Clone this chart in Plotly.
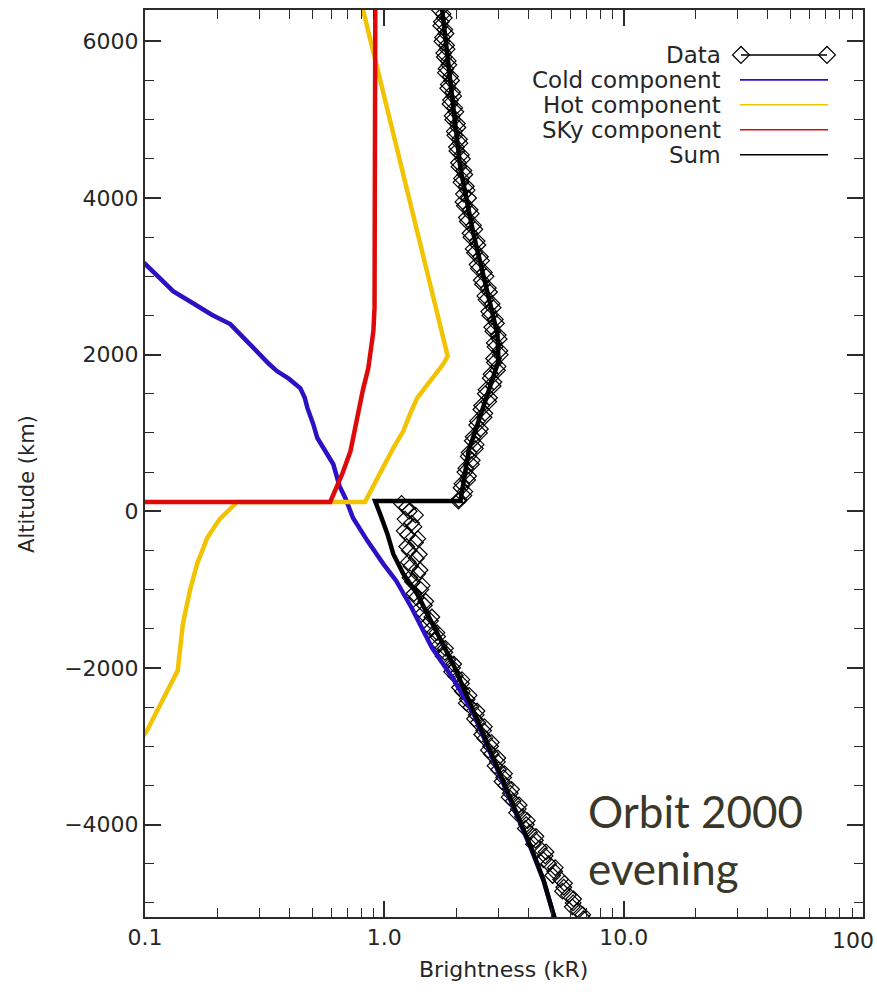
import plotly.graph_objects as go

# ---------------- data ----------------
# Observed brightness profile (kR) versus altitude (km)
data_alt = [6400, 6350, 6300, 6250, 6200, 6150, 6100, 6050, 6000, 5950,
            5900, 5850, 5800, 5750, 5700, 5650, 5600, 5550, 5500, 5450,
            5400, 5350, 5300, 5250, 5200, 5150, 5100, 5050, 5000, 4950,
            4900, 4850, 4800, 4750, 4700, 4650, 4600, 4550, 4500, 4450,
            4400, 4350, 4300, 4250, 4200, 4150, 4100, 4050, 4000, 3950,
            3900, 3850, 3800, 3750, 3700, 3650, 3600, 3550, 3500, 3450,
            3400, 3350, 3300, 3250, 3200, 3150, 3100, 3050, 3000, 2950,
            2900, 2850, 2800, 2750, 2700, 2650, 2600, 2550, 2500, 2450,
            2400, 2350, 2300, 2250, 2200, 2150, 2100, 2050, 2000, 1950,
            1900, 1850, 1800, 1750, 1700, 1650, 1600, 1550, 1500, 1450,
            1400, 1350, 1300, 1250, 1200, 1150, 1100, 1050, 1000, 950,
            900, 850, 800, 750, 700, 650, 600, 550, 500, 450,
            400, 350, 300, 250, 200, 150, 130,
            100, 50, 0, -50, -100, -150, -200, -250, -300, -350,
            -400, -450, -500, -550, -600, -650, -700, -750, -800, -850,
            -900, -950, -1000, -1050, -1100, -1150, -1200, -1250, -1300, -1350,
            -1400, -1450, -1500, -1550, -1600, -1650, -1700, -1750, -1800, -1850,
            -1900, -1950, -2000, -2050, -2100, -2150, -2200, -2250, -2300, -2350,
            -2400, -2450, -2500, -2550, -2600, -2650, -2700, -2750, -2800, -2850,
            -2900, -2950, -3000, -3050, -3100, -3150, -3200, -3250, -3300, -3350,
            -3400, -3450, -3500, -3550, -3600, -3650, -3700, -3750, -3800, -3850,
            -3900, -3950, -4000, -4050, -4100, -4150, -4200, -4250, -4300, -4350,
            -4400, -4450, -4500, -4550, -4600, -4650, -4700, -4750, -4800, -4850,
            -4900, -4950, -5000, -5050, -5100, -5150, -5200]
data_val = [1.70, 1.76, 1.78, 1.73, 1.72, 1.79, 1.81, 1.75, 1.74, 1.82,
            1.83, 1.77, 1.78, 1.85, 1.86, 1.81, 1.80, 1.89, 1.91, 1.85,
            1.84, 1.93, 1.95, 1.89, 1.88, 1.97, 1.99, 1.92, 1.93, 2.02,
            2.03, 1.96, 1.97, 2.06, 2.07, 2.00, 2.01, 2.10, 2.12, 2.04,
            2.05, 2.15, 2.17, 2.10, 2.09, 2.20, 2.22, 2.14, 2.25, 2.13,
            2.16, 2.28, 2.31, 2.20, 2.22, 2.36, 2.39, 2.28, 2.30, 2.44,
            2.46, 2.35, 2.38, 2.52, 2.55, 2.44, 2.47, 2.62, 2.66, 2.54,
            2.57, 2.72, 2.75, 2.63, 2.66, 2.82, 2.85, 2.73, 2.76, 2.91,
            2.94, 2.81, 2.84, 2.99, 3.02, 2.88, 2.90, 3.04, 3.05, 2.86,
            2.88, 2.99, 2.97, 2.79, 2.77, 2.87, 2.85, 2.66, 2.64, 2.75,
            2.73, 2.55, 2.53, 2.63, 2.61, 2.45, 2.43, 2.52, 2.50, 2.35,
            2.33, 2.42, 2.40, 2.26, 2.24, 2.33, 2.31, 2.19, 2.17, 2.25,
            2.23, 2.11, 2.09, 2.17, 2.15, 2.05, 2.04,
            1.18, 1.24, 1.27, 1.35, 1.22, 1.30, 1.33, 1.21, 1.25, 1.38,
            1.35, 1.24, 1.27, 1.40, 1.36, 1.26, 1.29, 1.41, 1.38, 1.28,
            1.31, 1.44, 1.42, 1.33, 1.36, 1.49, 1.47, 1.40, 1.45, 1.58,
            1.56, 1.50, 1.57, 1.66, 1.67, 1.62, 1.70, 1.80, 1.79, 1.76,
            1.84, 1.95, 1.93, 1.91, 1.98, 2.11, 2.10, 2.06, 2.12, 2.26,
            2.22, 2.20, 2.30, 2.44, 2.42, 2.38, 2.46, 2.62, 2.60, 2.55,
            2.63, 2.80, 2.78, 2.72, 2.80, 2.98, 2.97, 2.90, 3.00, 3.18,
            3.15, 3.10, 3.22, 3.40, 3.36, 3.32, 3.45, 3.66, 3.63, 3.57,
            3.78, 3.96, 3.92, 3.88, 4.05, 4.30, 4.28, 4.20, 4.45, 4.74,
            4.70, 4.62, 4.86, 5.18, 5.15, 5.05, 5.45, 5.66, 5.62, 5.55,
            5.88, 6.18, 6.15, 6.10, 6.45, 6.75, 6.80]

# Cold component
cold_alt = [3270, 3160, 2980, 2810, 2650, 2510, 2390, 2200, 2040, 1880,
            1790, 1690, 1570, 1450, 1320, 1230, 1110, 935, 730, 600,
            320, 170, -85, -378, -671, -887, -1231, -1741, -2161, -2582,
            -3140, -3690, -4290, -4710, -5000, -5200]
cold_val = [0.090, 0.100, 0.115, 0.131, 0.160, 0.190, 0.227, 0.260, 0.294, 0.330,
            0.356, 0.400, 0.446, 0.465, 0.477, 0.490, 0.505, 0.525, 0.578, 0.612,
            0.650, 0.687, 0.740, 0.850, 0.990, 1.12, 1.30, 1.58, 1.96, 2.36,
            2.82, 3.37, 4.08, 4.62, 4.95, 5.15]

# Hot component
hot_alt = [6500, 1980, 1877, 1623, 1445, 1240, 1024, 807, 476, 120,
           120, -100, -339, -671, -1015, -1435, -2034, -2454, -2798, -2950]
hot_val = [0.80, 1.84, 1.76, 1.51, 1.37, 1.28, 1.20, 1.09, 0.96, 0.83,
           0.243, 0.205, 0.182, 0.165, 0.154, 0.144, 0.137, 0.116, 0.102, 0.094]

# Sky component
sky_alt = [6500, 3000, 2600, 2300, 2050, 1826, 1560, 1279, 1000, 769,
           476, 300, 130, 120, 120]
sky_val = [0.917, 0.916, 0.910, 0.900, 0.880, 0.857, 0.815, 0.778, 0.750, 0.722,
           0.667, 0.630, 0.594, 0.594, 0.050]

# Sum of the three components
sum_alt = [6500, 6375, 5228, 4374, 3534, 2769, 2260, 1916, 1622, 769,
           130, 130, -34, -289, -544, -798, -1053, -1308, -1614, -1996,
           -2671, -3140, -3690, -4290, -4710, -5000, -5200]
sum_val = [1.72, 1.75, 1.93, 2.08, 2.36, 2.70, 2.97, 3.00, 2.78, 2.25,
           2.08, 0.915, 0.96, 1.03, 1.09, 1.20, 1.37, 1.51, 1.71, 1.97,
           2.45, 2.85, 3.40, 4.10, 4.63, 4.96, 5.15]

x_tickvals = [0.1, 1, 10, 100]
x_ticktext = ["0.1", "1.0", "10.0", ""]
x_last_label = "100"
x_minor = [0.2, 0.3, 0.4, 0.5, 0.6, 0.7, 0.8, 0.9,
           2, 3, 4, 5, 6, 7, 8, 9,
           20, 30, 40, 50, 60, 70, 80, 90]
y_tickvals = [-4000, -2000, 0, 2000, 4000, 6000]

legend_labels = ["Data", "Cold component", "Hot component", "SKy component", "Sum"]

# ---------------- styling ----------------
AX = "#2b2b2b"
TXT = "#262626"
FONT = "DejaVu Sans"
BLUE = "#2a12c4"
GOLD = "#f2c300"
RED = "#de0a0a"
BLACK = "#000000"
legend_colors = [BLACK, BLUE, GOLD, RED, BLACK]

# plot area in pixels (used to place paper-referenced decorations)
L, R, T, B = 145, 863, 8, 917
W, H = 877, 999


def px(xp):
    return (xp - L) / (R - L)


def py(yp):
    return (B - yp) / (B - T)


fig = go.Figure()

fig.add_trace(go.Scatter(
    x=data_val, y=data_alt, mode="markers",
    marker=dict(symbol="diamond-open", size=12, color=BLACK, line=dict(width=1.2)),
    showlegend=False))
fig.add_trace(go.Scatter(x=cold_val, y=cold_alt, mode="lines",
                         line=dict(color=BLUE, width=4.5), showlegend=False))
fig.add_trace(go.Scatter(x=hot_val, y=hot_alt, mode="lines",
                         line=dict(color=GOLD, width=4.5), showlegend=False))
fig.add_trace(go.Scatter(x=sky_val, y=sky_alt, mode="lines",
                         line=dict(color=RED, width=4.5), showlegend=False))
fig.add_trace(go.Scatter(x=sum_val, y=sum_alt, mode="lines",
                         line=dict(color=BLACK, width=4.5), showlegend=False))

# legend samples on an overlay axis spanning the plot area in [0, 1]
row_y = [53, 78, 103, 128, 153]
lx0, lx1 = 741, 827
for i, (lab, col) in enumerate(zip(legend_labels, legend_colors)):
    yy = py(row_y[i])
    if i == 0:
        fig.add_trace(go.Scatter(
            x=[px(lx0), px(lx1)], y=[yy, yy], xaxis="x2", yaxis="y2",
            mode="lines+markers", line=dict(color=col, width=1.5),
            marker=dict(symbol="diamond-open", size=13, color=col, line=dict(width=1.3)),
            showlegend=False, hoverinfo="skip"))
    else:
        fig.add_trace(go.Scatter(
            x=[px(lx0 - 1), px(lx1 + 1)], y=[yy, yy], xaxis="x2", yaxis="y2",
            mode="lines", line=dict(color=col, width=1.6),
            showlegend=False, hoverinfo="skip"))
    fig.add_annotation(x=px(723), y=yy, xref="paper", yref="paper",
                       text=lab, showarrow=False, xanchor="right", yanchor="middle",
                       font=dict(family=FONT, size=23, color=TXT))

axis_common = dict(
    showline=True, linecolor=AX, linewidth=2, mirror="allticks",
    ticks="inside", tickcolor=AX, tickwidth=1.6, showgrid=False, zeroline=False,
    tickfont=dict(family=FONT, size=22, color=TXT),
)

fig.update_layout(
    width=W, height=H,
    margin=dict(l=L, r=W - R, t=T, b=H - B),
    paper_bgcolor="white", plot_bgcolor="white",
    xaxis=dict(type="log", range=[-1, 2], tickmode="array",
               tickvals=x_tickvals, ticktext=x_ticktext, ticklen=16,
               minor=dict(tickmode="array", tickvals=x_minor, ticks="inside",
                          ticklen=9, tickcolor=AX, tickwidth=1.4, showgrid=False),
               **axis_common),
    yaxis=dict(range=[-5180, 6400], tickmode="array", tickvals=y_tickvals,
               ticklen=16,
               minor=dict(dtick=500, tick0=0, ticks="inside", ticklen=9,
                          tickcolor=AX, tickwidth=1.4, showgrid=False),
               **axis_common),
    xaxis2=dict(overlaying="x", range=[0, 1], visible=False, fixedrange=True),
    yaxis2=dict(overlaying="y", range=[0, 1], visible=False, fixedrange=True),
    showlegend=False,
)

# rightmost x tick label, kept inside the page
fig.add_annotation(x=px(876), y=py(941), xref="paper", yref="paper",
                   text=x_last_label, showarrow=False,
                   xanchor="right", yanchor="middle",
                   font=dict(family=FONT, size=22, color=TXT))

# axis titles
fig.add_annotation(x=px(503), y=py(970), xref="paper", yref="paper",
                   text="Brightness (kR)", showarrow=False,
                   xanchor="center", yanchor="middle",
                   font=dict(family=FONT, size=22, color=TXT))
fig.add_annotation(x=px(27), y=py(483), xref="paper", yref="paper",
                   text="Altitude (km)", showarrow=False, textangle=-90,
                   xanchor="center", yanchor="middle",
                   font=dict(family=FONT, size=21, color=TXT))

# orbit note
fig.add_annotation(x=px(586), y=py(811), xref="paper", yref="paper",
                   text="Orbit 2000", showarrow=False,
                   xanchor="left", yanchor="middle",
                   font=dict(family="Lato", size=44, color="#3a3829"))
fig.add_annotation(x=px(586), y=py(868), xref="paper", yref="paper",
                   text="evening", showarrow=False,
                   xanchor="left", yanchor="middle",
                   font=dict(family="Lato", size=44, color="#3a3829"))

fig.write_html("out.html")
